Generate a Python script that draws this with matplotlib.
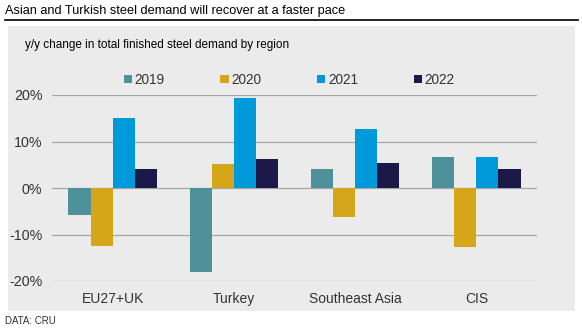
import matplotlib
matplotlib.use("Agg")
import numpy as np
from matplotlib import pyplot as plt
from matplotlib.patches import Rectangle

plt.rcParams['font.family'] = ['Liberation Sans', 'DejaVu Sans']

# data
regions = ["EU27+UK", "Turkey", "Southeast Asia", "CIS"]
years = ["2019", "2020", "2021", "2022"]
v2019 = [-5.7, -18.0, 4.1, 6.7]
v2020 = [-12.4, 5.2, -6.2, -12.7]
v2021 = [15.0, 19.3, 12.7, 6.7]
v2022 = [4.1, 6.2, 5.4, 4.1]
yticks = [-20, -10, 0, 10, 20]

colors = ["#4F9199", "#D5A61A", "#0099DA", "#1C1847"]
series = [v2019, v2020, v2021, v2022]

W, H = 582, 328
fig = plt.figure(figsize=(W / 100, H / 100), dpi=100)

# grey panel behind the chart
fig.patches.append(Rectangle((8 / W, 1 - 311 / H), 567 / W, 285 / H,
                             transform=fig.transFigure, facecolor="#EBEBEB",
                             edgecolor="none", zorder=-5))
# title and rule under it
fig.text(5 / W, 1 - 11 / H, "Asian and Turkish steel demand will recover at a faster pace",
         fontsize=9.2, va="center", ha="left")
fig.add_artist(plt.Line2D([5 / W, 578 / W], [1 - 20 / H, 1 - 20 / H],
                          transform=fig.transFigure, color="black", lw=1.2))
fig.text(25 / W, 1 - 45 / H, "y/y change in total finished steel demand by region",
         fontsize=8.5, va="center", ha="left")
fig.text(5 / W, 1 - 321 / H, "DATA: CRU", fontsize=7, va="center", ha="left", color="#333333")

ax = fig.add_axes([52 / W, 1 - 281 / H, 485 / W, 186 / H])
ax.set_zorder(2)
ax.set_facecolor("none")

x = np.arange(len(regions))
bw = 0.182
for i, (vals, c, yr) in enumerate(zip(series, colors, years)):
    ax.bar(x + (i - 1.5) * bw, vals, bw, color=c, label=yr, zorder=3)

ax.set_xlim(-0.5, 3.5)
ax.set_ylim(-20, 20)
ax.set_yticks(yticks)
ax.set_yticklabels([str(t) + "%" for t in yticks], fontsize=10.3, color="#333333")
ax.set_xticks(x)
ax.set_xticklabels(regions, fontsize=10, color="#333333")
ax.tick_params(length=0, pad=7)
ax.tick_params(axis="x", pad=8)
ax.grid(axis="y", color="#A6A6A6", lw=0.9, zorder=0)
for s in ax.spines.values():
    s.set_visible(False)

ax.legend(loc="center", bbox_to_anchor=(0.489, 1.081), ncol=4, frameon=False,
          fontsize=9.8, handlelength=0.6, handleheight=0.6, handletextpad=0.2,
          columnspacing=4.1, labelcolor="#333333", borderpad=0)

fig.savefig("out.png", dpi=100)
